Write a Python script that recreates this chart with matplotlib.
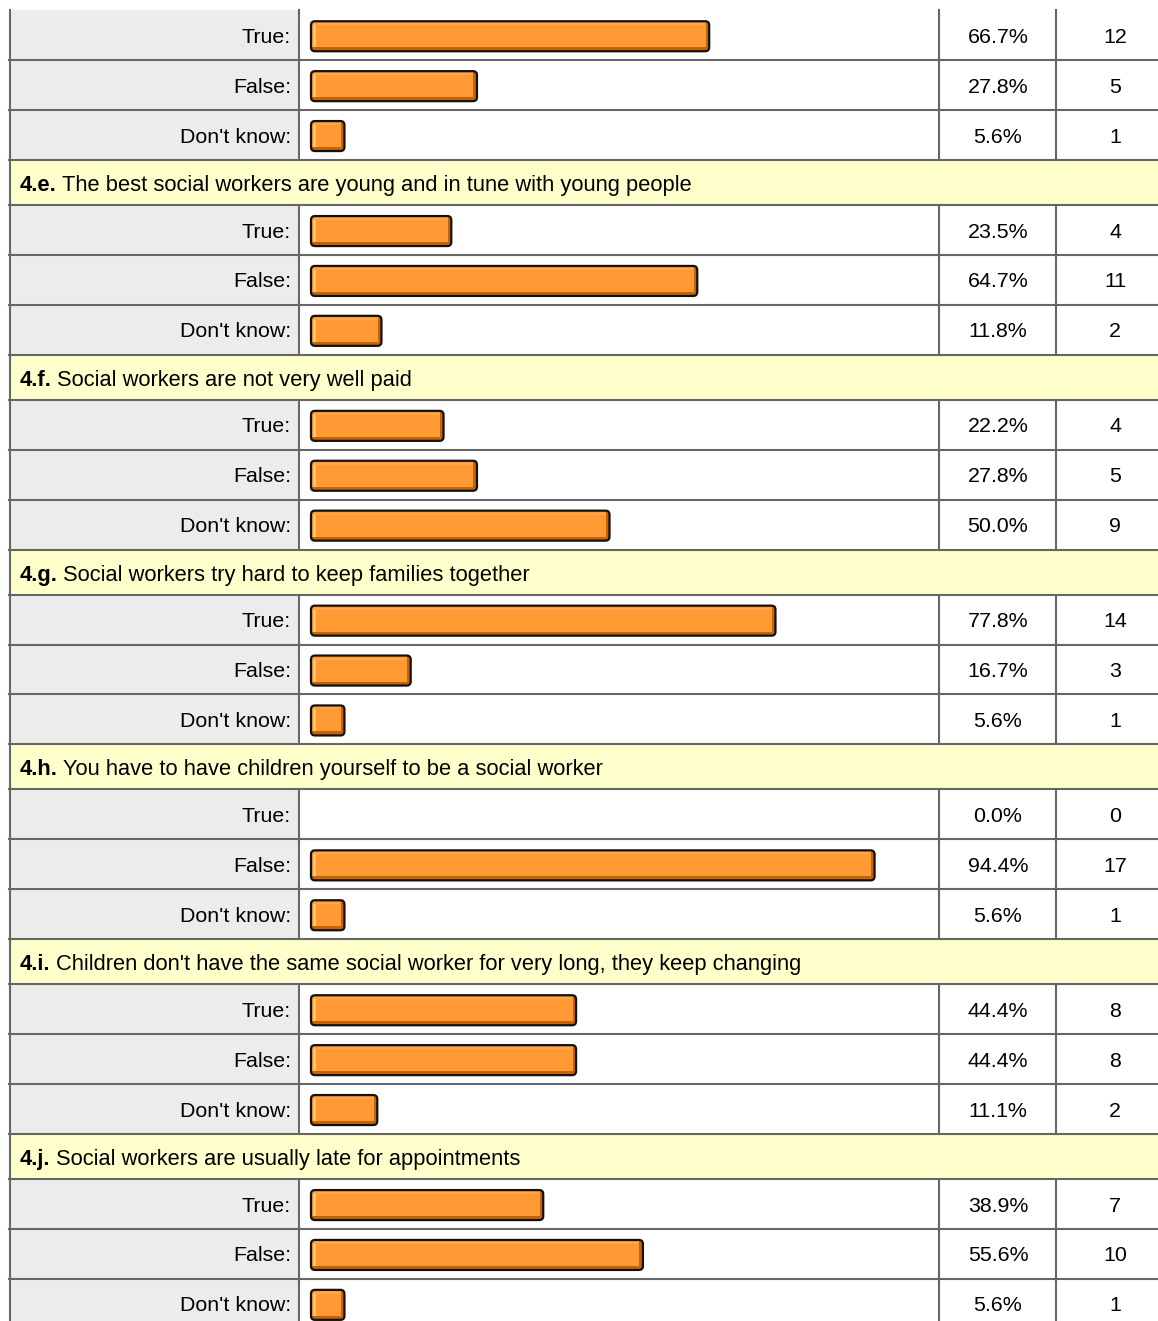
"""Survey results table: True / False / Don't know answers with orange bars."""

import matplotlib

matplotlib.use("Agg")
import matplotlib.pyplot as plt
from matplotlib.patches import FancyBboxPatch, Rectangle

plt.rcParams["font.family"] = ["Liberation Sans", "DejaVu Sans"]

# ── data ──
ANSWERS = ["True:", "False:", "Don't know:"]
QUESTION_IDS = [None, "4.e.", "4.f.", "4.g.", "4.h.", "4.i.", "4.j."]
QUESTIONS = [
    None,
    "The best social workers are young and in tune with young people",
    "Social workers are not very well paid",
    "Social workers try hard to keep families together",
    "You have to have children yourself to be a social worker",
    "Children don't have the same social worker for very long, they keep changing",
    "Social workers are usually late for appointments",
]
PERCENTS = [
    [66.7, 27.8, 5.6],
    [23.5, 64.7, 11.8],
    [22.2, 27.8, 50.0],
    [77.8, 16.7, 5.6],
    [0.0, 94.4, 5.6],
    [44.4, 44.4, 11.1],
    [38.9, 55.6, 5.6],
]
COUNTS = [
    [12, 5, 1],
    [4, 11, 2],
    [4, 5, 9],
    [14, 3, 1],
    [0, 17, 1],
    [8, 8, 2],
    [7, 10, 1],
]

# ── layout (pixels) ──
W, H = 1158, 1321
LEFT = 10
COL_LABEL = 298.5
COL_PCT = 938.5
COL_CNT = 1055.5
ROW_H = 49.9
HEAD_H = 45.1
TOP = 10.3
BAR_X0 = 311
PX_PER_PCT = 5.97
BAR_H = 30

GRID = "#666666"
LABEL_BG = "#ececec"
HEAD_BG = "#ffffcc"
ORANGE = "#ff9933"
ORANGE_DARK = "#c86400"
ORANGE_LIGHT = "#ffc27a"
FS = 15.4
FS_HEAD = 15.75
INK = "#000000"

fig = plt.figure(figsize=(W / 100, H / 100), dpi=100)
ax = fig.add_axes([0, 0, 1, 1])
ax.set_xlim(0, W)
ax.set_ylim(H, 0)
ax.axis("off")
renderer = fig.canvas.get_renderer()


def draw_bar(y_mid, pct):
    if pct <= 0:
        return
    w = pct * PX_PER_PCT
    y0 = y_mid - BAR_H / 2
    body = FancyBboxPatch(
        (BAR_X0, y0), w, BAR_H,
        boxstyle="round,pad=0,rounding_size=4",
        facecolor=ORANGE, edgecolor="none", zorder=3,
    )
    ax.add_patch(body)
    # darker bottom band and right edge, light left/top highlight
    bottom = Rectangle((BAR_X0, y0 + BAR_H - 4), w, 4,
                       facecolor=ORANGE_DARK, edgecolor="none", zorder=4)
    right = Rectangle((BAR_X0 + w - 3.5, y0), 3.5, BAR_H,
                      facecolor=ORANGE_DARK, edgecolor="none", zorder=4)
    light = Rectangle((BAR_X0 + 2, y0 + 2), 2.5, BAR_H - 6,
                      facecolor=ORANGE_LIGHT, edgecolor="none", zorder=4)
    top = Rectangle((BAR_X0 + 2, y0 + 2), w - 6, 2,
                    facecolor="#ffa64d", edgecolor="none", zorder=4)
    for p in (bottom, right, light, top):
        ax.add_patch(p)
        p.set_clip_path(body)
    outline = FancyBboxPatch(
        (BAR_X0, y0), w, BAR_H,
        boxstyle="round,pad=0,rounding_size=4",
        facecolor="none", edgecolor="#111111", linewidth=1.6, zorder=5,
    )
    ax.add_patch(outline)


y = TOP
for qid, question, pcts, cnts in zip(QUESTION_IDS, QUESTIONS, PERCENTS, COUNTS):
    if qid is not None:
        ax.add_patch(Rectangle((LEFT, y), W - LEFT, HEAD_H,
                               facecolor=HEAD_BG, edgecolor="none", zorder=1))
        ax.plot([LEFT - 1, W], [y, y], color=GRID, lw=1.5, zorder=6)
        ym = y + HEAD_H / 2 + 3
        t = ax.text(20, ym, qid, fontsize=FS_HEAD, fontweight="bold",
                    ha="left", va="center", color=INK, zorder=7)
        bb = t.get_window_extent(renderer)
        ax.text(bb.x1 + 5, ym, question, fontsize=FS_HEAD,
                ha="left", va="center", color=INK, zorder=7)
        ax.plot([LEFT, LEFT], [y, y + HEAD_H], color=GRID, lw=1.5, zorder=6)
        y += HEAD_H
    for ans, pct, cnt in zip(ANSWERS, pcts, cnts):
        y1 = min(y + ROW_H, H + 5)
        ax.add_patch(Rectangle((LEFT, y), COL_LABEL - LEFT, ROW_H,
                               facecolor=LABEL_BG, edgecolor="none", zorder=1))
        if y > TOP + 1:
            ax.plot([LEFT - 1, W], [y, y], color=GRID, lw=1.5, zorder=6)
        for x in (LEFT, COL_LABEL, COL_PCT, COL_CNT):
            ax.plot([x, x], [y, y1], color=GRID, lw=1.5, zorder=6)
        ym = y + ROW_H / 2
        ax.text(291, ym + 2, ans, fontsize=FS, ha="right", va="center",
                color=INK, zorder=7)
        ax.text(998, ym + 2, f"{pct:.1f}%", fontsize=FS,
                ha="center", va="center", color=INK, zorder=7)
        ax.text(1115, ym + 2, f"{cnt}", fontsize=FS,
                ha="center", va="center", color=INK, zorder=7)
        draw_bar(ym + 1, pct)
        y += ROW_H

fig.savefig("out.png", dpi=100, facecolor="white")
